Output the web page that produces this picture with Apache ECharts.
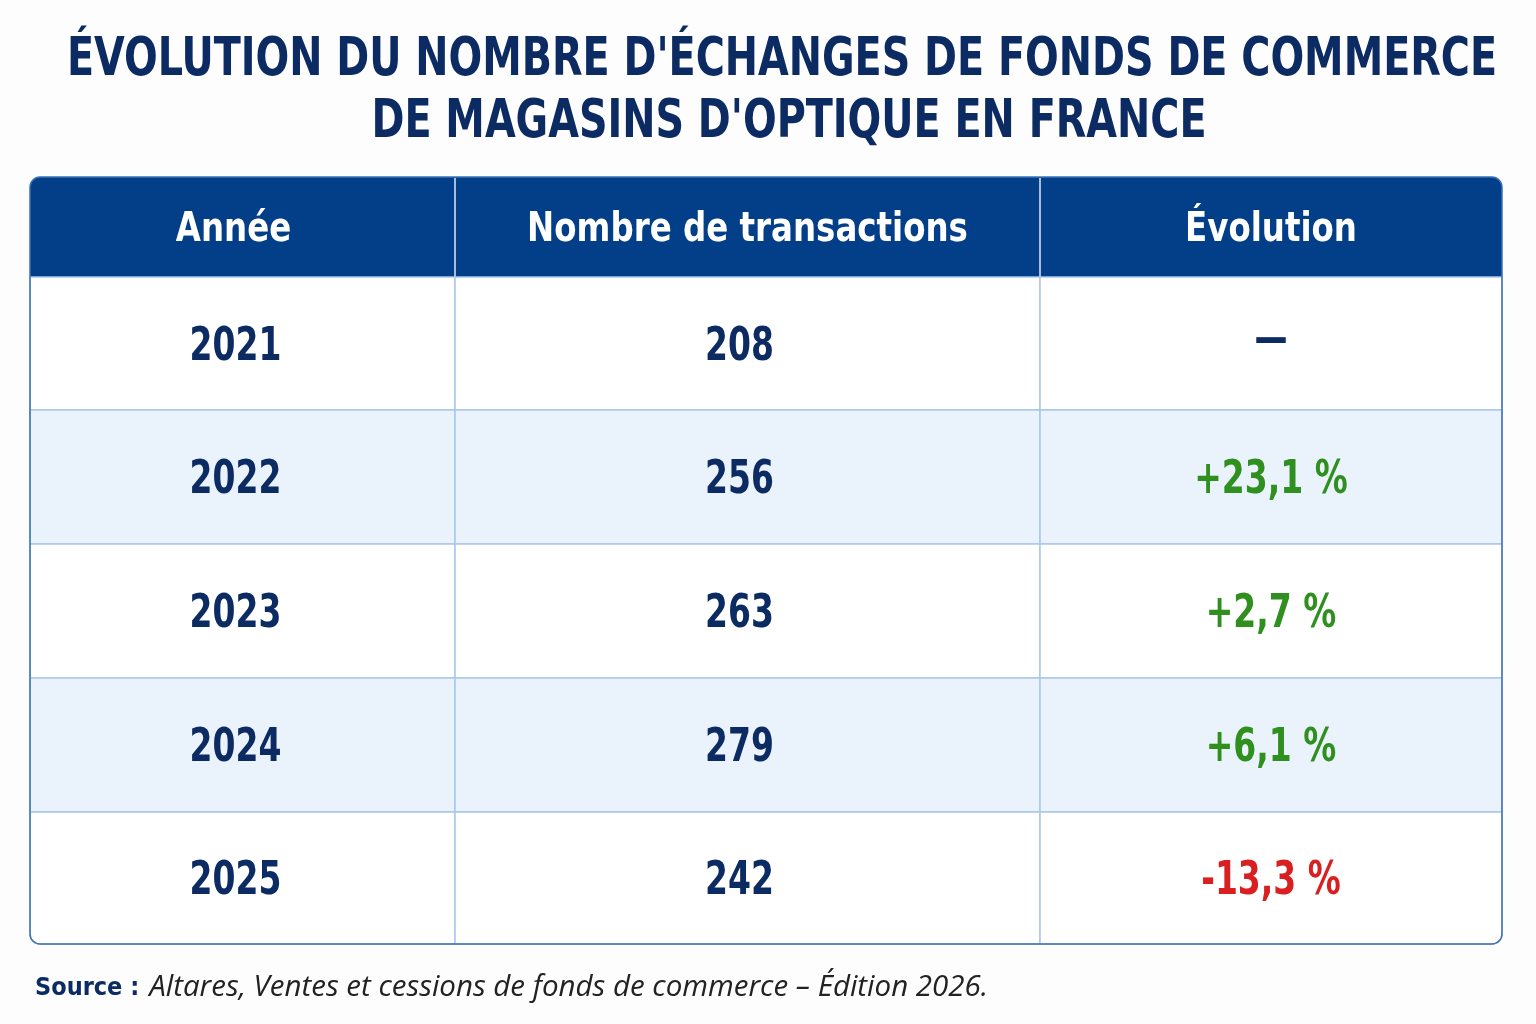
<!DOCTYPE html>
<html>
<head>
<meta charset="utf-8">
<script src="https://cdn.jsdelivr.net/npm/echarts@6/dist/echarts.min.js"></script>
<style>
  html, body { margin: 0; padding: 0; background: #fdfdfd; }
  #main { width: 1536px; height: 1024px; }
</style>
</head>
<body>
<div id="main"></div>
<script>
// données du tableau
var headers = ['Année', 'Nombre de transactions', 'Évolution'];
var years = ['2021', '2022', '2023', '2024', '2025'];
var transactions = [208, 256, 263, 279, 242];
var evolution = ['—', '+23,1 %', '+2,7 %', '+6,1 %', '-13,3 %'];
var titleLines = ["ÉVOLUTION DU NOMBRE D'ÉCHANGES DE FONDS DE COMMERCE", "DE MAGASINS D'OPTIQUE EN FRANCE"];

// mise en page (bords des colonnes / lignes, en unités d'axe)
var colEdges = [0, 425, 1010, 1472];
var rowEdges = [0, 100, 233, 367, 501, 635, 767];

var NAVY = '#0c2b63';
var HEAD = '#023f88';
var GREEN = '#2f8f1f';
var RED = '#d91f1f';
var LINE = '#a9c7ea';
var STRIPE = '#eaf2fb';
var CONDENSED = '"DejaVu Sans Condensed", "DejaVu Sans", sans-serif';

var cells = [];
headers.forEach(function (h, c) {
  cells.push({ col: c, row: 0, text: h, head: true });
});
years.forEach(function (y, i) {
  var ev = evolution[i];
  var evColor = ev.charAt(0) === '+' ? GREEN : (ev.charAt(0) === '-' ? RED : NAVY);
  cells.push({ col: 0, row: i + 1, text: y, color: NAVY });
  cells.push({ col: 1, row: i + 1, text: String(transactions[i]), color: NAVY });
  cells.push({ col: 2, row: i + 1, text: ev, color: evColor });
});

var R = 10;
function cornerRadius(cell) {
  var last = rowEdges.length - 2;
  var tl = 0, tr = 0, br = 0, bl = 0;
  if (cell.row === 0 && cell.col === 0) tl = R;
  if (cell.row === 0 && cell.col === 2) tr = R;
  if (cell.row === last && cell.col === 0) bl = R;
  if (cell.row === last && cell.col === 2) br = R;
  return [tl, tr, br, bl];
}

function renderCell(params, api) {
  var cell = cells[params.dataIndex];
  var p0 = api.coord([colEdges[cell.col], rowEdges[cell.row]]);
  var p1 = api.coord([colEdges[cell.col + 1], rowEdges[cell.row + 1]]);
  var w = p1[0] - p0[0], h = p1[1] - p0[1];
  var children = [];
  if (cell.head) {
    children.push({
      type: 'rect',
      shape: { x: p0[0], y: p0[1], width: w, height: h, r: cornerRadius(cell) },
      style: { fill: HEAD }
    });
    if (cell.col > 0) {
      children.push({
        type: 'line',
        shape: { x1: p0[0], y1: p0[1] + 1, x2: p0[0], y2: p1[1] },
        style: { stroke: '#dfe9f7', lineWidth: 1.5 }
      });
    }
    children.push({
      type: 'text',
      x: p0[0] + w / 2 - (cell.col === 0 ? 9 : 0), y: p0[1] + h / 2 + 3,
      scaleX: 0.88,
      style: {
        x: 0, y: 0,
        text: cell.text, fill: '#ffffff',
        font: 'bold 41px ' + CONDENSED,
        align: 'center', verticalAlign: 'middle'
      }
    });
  } else {
    children.push({
      type: 'rect',
      shape: { x: p0[0], y: p0[1], width: w, height: h, r: cornerRadius(cell) },
      style: { fill: cell.row % 2 === 0 ? STRIPE : '#ffffff', stroke: LINE, lineWidth: 1.5 }
    });
    children.push({
      type: 'text',
      x: p0[0] + w / 2 - (cell.col === 1 ? 8 : (cell.col === 0 ? 7 : 0)),
      y: p0[1] + h / 2 + 4 - (cell.text === '—' ? 7 : 0),
      scaleX: 0.78,
      style: {
        x: 0, y: 0,
        text: cell.text, fill: cell.color,
        font: 'bold 47px ' + CONDENSED,
        align: 'center', verticalAlign: 'middle'
      }
    });
  }
  return { type: 'group', children: children };
}

function renderFrame(params, api) {
  var p0 = api.coord([colEdges[0], rowEdges[0]]);
  var p1 = api.coord([colEdges[colEdges.length - 1], rowEdges[rowEdges.length - 1]]);
  return {
    type: 'rect',
    shape: { x: p0[0], y: p0[1], width: p1[0] - p0[0], height: p1[1] - p0[1], r: R },
    style: { fill: 'none', stroke: '#3d70b7', lineWidth: 1.5 }
  };
}

var myChart = echarts.init(document.getElementById('main'));
var option = {
  backgroundColor: '#fdfdfd',
  animation: false,
  title: [{
    text: '{b|Source :}  {i|Altares, Ventes et cessions de fonds de commerce – Édition 2026.}',
    left: 30, top: 968,
    textStyle: {
      rich: {
        b: { color: NAVY, fontFamily: CONDENSED, fontWeight: 'bold', fontSize: 25 },
        i: { color: '#222222', fontFamily: '"Open Sans", sans-serif', fontStyle: 'italic', fontWeight: 'normal', fontSize: 29.5 }
      }
    }
  }],
  graphic: titleLines.map(function (t, i) {
    return {
      type: 'text',
      x: i === 0 ? 782 : 789, y: 61 + i * 62,
      scaleX: 0.817,
      style: {
        text: t, fill: NAVY,
        font: 'bold 54px ' + CONDENSED,
        align: 'center', verticalAlign: 'middle'
      }
    };
  }),
  grid: { left: 30, top: 177, width: 1472, height: 767 },
  xAxis: { type: 'value', min: 0, max: 1472, show: false },
  yAxis: { type: 'value', min: 0, max: 767, inverse: true, show: false },
  series: [{
    type: 'custom',
    renderItem: renderCell,
    data: cells.map(function (c) { return [colEdges[c.col], rowEdges[c.row]]; }),
    silent: true
  }, {
    type: 'custom',
    renderItem: renderFrame,
    data: [[0, 0]],
    silent: true,
    z: 5
  }]
};
myChart.setOption(option);
</script>
</body>
</html>
